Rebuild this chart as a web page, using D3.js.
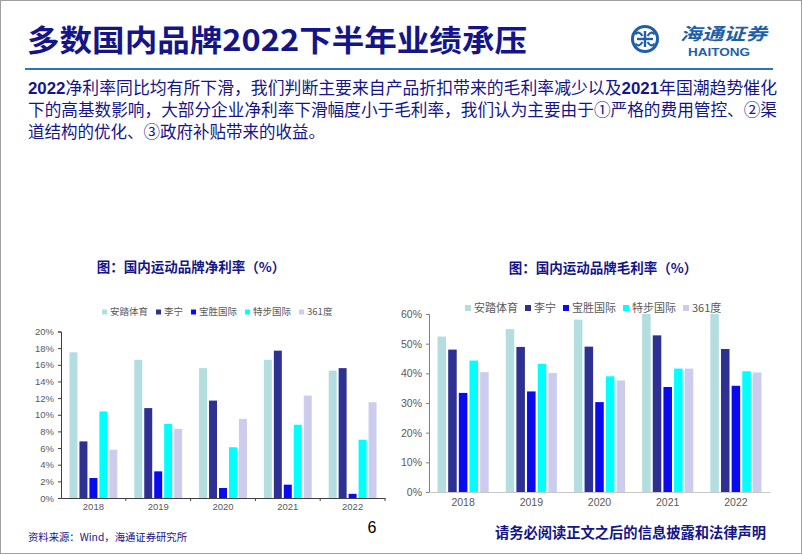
<!DOCTYPE html>
<html><head><meta charset="utf-8">
<script src="https://cdn.jsdelivr.net/npm/d3@7"></script>
<style>
html,body{margin:0;padding:0;background:#fff;}
svg{display:block;}
text{font-family:"Noto Sans CJK SC","Noto Sans",sans-serif;}
</style></head>
<body>
<svg id="c" width="802" height="554"></svg>
<script>
// ---------- data ----------
const years = ["2018","2019","2020","2021","2022"];
const brands = ["安踏体育","李宁","宝胜国际","特步国际","361度"];
const netAnta   = [17.5, 16.6, 15.6, 16.6, 15.3];
const netLining = [6.8, 10.8, 11.7, 17.7, 15.6];
const netPousheng = [2.4, 3.2, 1.2, 1.6, 0.5];
const netXtep   = [10.4, 8.9, 6.1, 8.8, 7.0];
const net361    = [5.8, 8.3, 9.5, 12.3, 11.5];
const grossAnta   = [52.4, 54.9, 58.1, 61.6, 60.2];
const grossLining = [48.0, 48.9, 49.0, 52.8, 48.2];
const grossPousheng = [33.4, 33.9, 30.3, 35.4, 35.8];
const grossXtep   = [44.3, 43.2, 39.0, 41.6, 40.7];
const gross361    = [40.4, 40.1, 37.6, 41.6, 40.3];
const netTicks = [0,2,4,6,8,10,12,14,16,18,20];
const grossTicks = [0,10,20,30,40,50,60];
const titleText = "多数国内品牌2022下半年业绩承压";
const paraLines = [
  "2022净利率同比均有所下滑，我们判断主要来自产品折扣带来的毛利率减少以及2021年国潮趋势催化",
  "下的高基数影响，大部分企业净利率下滑幅度小于毛利率，我们认为主要由于①严格的费用管控、②渠",
  "道结构的优化、③政府补贴带来的收益。"
];
const netTitle = "图：国内运动品牌净利率（%）";
const grossTitle = "图：国内运动品牌毛利率（%）";
const sourceText = "资料来源：Wind，海通证券研究所";
const disclaimer = "请务必阅读正文之后的信息披露和法律声明";
const pageNo = "6";

const colors = ["#b4dde0","#2e3192","#0a0aef","#00ffff","#cccdee"];
const navy = "#15158a";
const mixFont = "'Liberation Sans','Noto Sans CJK SC',sans-serif";

const svg = d3.select("#c");
svg.append("rect").attr("x",0.5).attr("y",0.5).attr("width",801).attr("height",553)
  .attr("fill","#fff").attr("stroke","#a0a0a0");

// ---------- header ----------
svg.append("text").attr("x",27).attr("y",51).attr("font-size",30).attr("font-weight","bold")
  .attr("fill",navy).attr("textLength",500).attr("lengthAdjust","spacingAndGlyphs").text(titleText);
svg.append("line").attr("x1",25).attr("x2",773).attr("y1",69).attr("y2",69)
  .attr("stroke","#2e75b6").attr("stroke-width",2);

// logo
const logo = svg.append("g").attr("transform","translate(645,39)");
const lc = "#1f5fa8";
logo.append("circle").attr("r",12.5).attr("fill","none").attr("stroke",lc).attr("stroke-width",3);
logo.append("line").attr("x1",-8).attr("x2",8).attr("y1",0).attr("y2",0).attr("stroke",lc).attr("stroke-width",2.4);
logo.append("line").attr("x1",0).attr("x2",0).attr("y1",-8).attr("y2",8).attr("stroke",lc).attr("stroke-width",2.4);
[[-1,-1],[1,-1],[1,1],[-1,1]].forEach(([sx,sy])=>{
  logo.append("path").attr("d",`M${sx*2.5},${sy*3} q${sx*4},${sy*6} ${sx*7},${sy*1.5}`)
    .attr("fill","none").attr("stroke",lc).attr("stroke-width",2.2);
});
svg.append("text").attr("x",680).attr("y",40).attr("font-size",17).attr("font-weight","bold")
  .attr("fill",lc).attr("font-style","italic").attr("textLength",87).attr("lengthAdjust","spacingAndGlyphs").text("海通证券");
svg.append("text").attr("x",688).attr("y",55.5).attr("font-size",11.5).attr("font-weight","bold")
  .attr("fill",lc).style("font-family","Liberation Sans, Arial, sans-serif")
  .attr("textLength",62).attr("lengthAdjust","spacingAndGlyphs").text("HAITONG");

// paragraph
const paraY = [93.5, 116, 138];
paraLines.forEach((l,i)=>{
  const t = svg.append("text").attr("x",28).attr("y",paraY[i]).attr("font-size",16.5)
    .attr("fill",navy).style("font-family",mixFont);
  if(i<2) t.attr("textLength",749).attr("lengthAdjust","spacingAndGlyphs");
  const parts = l.split(/(\d{4})/);
  parts.forEach(p=>{ if(!p) return;
    const ts=t.append("tspan").text(p);
    if(/^\d{4}$/.test(p)) ts.attr("font-weight","bold");
  });
});

// ---------- charts ----------
function drawChart(cfg){
  const g = svg.append("g");
  const x = d3.scaleBand().domain(years).range([cfg.x0,cfg.x1]).paddingInner(0).paddingOuter(0);
  const xi = d3.scaleBand().domain(brands).range([0,x.bandwidth()]).paddingInner(0.2).paddingOuter(cfg.po);
  const y = d3.scaleLinear().domain([0,cfg.max]).range([cfg.y0,cfg.yTop]).clamp(true);

  // title
  g.append("text").attr("x",cfg.titleX).attr("y",cfg.titleY).attr("text-anchor","middle")
    .attr("font-size",13.5).attr("font-weight","bold").attr("fill",navy).text(cfg.title);

  // bars
  cfg.series.forEach((vals,si)=>{
    g.selectAll(null).data(vals).enter().append("rect")
      .attr("x",(d,i)=>x(years[i])+xi(brands[si]))
      .attr("width",xi.bandwidth())
      .attr("y",d=>y(d))
      .attr("height",d=>y(0)-y(d))
      .attr("fill",colors[si]);
  });

  // y axis
  const ya = g.append("g").attr("transform",`translate(${cfg.x0},0)`)
    .call(d3.axisLeft(y).tickValues(cfg.ticks).tickSize(3).tickPadding(4).tickFormat(d=>d+"%"));
  ya.select(".domain").attr("stroke",cfg.axisColor);
  ya.selectAll(".tick line").attr("stroke",cfg.axisColor);
  ya.selectAll("text").attr("fill","#595959").attr("font-size",cfg.fs)
    .style("font-family","Liberation Sans, Arial, sans-serif");

  // x axis
  const xa = g.append("g").attr("transform",`translate(0,${cfg.y0})`)
    .call(d3.axisBottom(x).tickSize(0).tickPadding(cfg.xpad));
  xa.select(".domain").attr("stroke",cfg.baseColor);
  xa.selectAll("text").attr("fill","#595959").attr("font-size",cfg.fs)
    .style("font-family","Liberation Sans, Arial, sans-serif");
  if(cfg.boundaryTicks){
    g.selectAll(null).data(years.slice(1).concat(["end"])).enter().append("line")
      .attr("x1",d=>d==="end"?cfg.x1:x(d)).attr("x2",d=>d==="end"?cfg.x1:x(d))
      .attr("y1",cfg.y0).attr("y2",cfg.y0+3).attr("stroke",cfg.baseColor);
  }

  // legend
  let lx = cfg.legX;
  brands.forEach((b,i)=>{
    g.append("rect").attr("x",lx).attr("y",cfg.legY-cfg.sq/2).attr("width",cfg.sq).attr("height",cfg.sq).attr("fill",colors[i]);
    const t = g.append("text").attr("x",lx+cfg.sq+3).attr("y",cfg.legY+cfg.lfs*0.36)
      .attr("font-size",cfg.lfs).attr("fill","#595959").text(b);
    lx += cfg.sq + 3 + t.node().getComputedTextLength() + cfg.lgap;
  });
}

drawChart({
  x0:61, x1:385, y0:498, yTop:331.5, max:20, ticks:netTicks, po:0.85,
  series:[netAnta,netLining,netPousheng,netXtep,net361],
  title:netTitle, titleX:191, titleY:271.5, fs:9.5, xpad:5,
  axisColor:"#404040", baseColor:"#404040", boundaryTicks:true,
  legX:102, legY:312, sq:5, lfs:9.5, lgap:8
});
drawChart({
  x0:429, x1:770, y0:492, yTop:314, max:60, ticks:grossTicks, po:0.8,
  series:[grossAnta,grossLining,grossPousheng,grossXtep,gross361],
  title:grossTitle, titleX:603, titleY:273, fs:10.5, xpad:7,
  axisColor:"#808080", baseColor:"#c8c8c8", boundaryTicks:false,
  legX:465, legY:308, sq:6, lfs:11, lgap:7
});

// ---------- footer ----------
svg.append("text").attr("x",28).attr("y",541).attr("font-size",10.5).attr("fill",navy)
  .attr("textLength",159).attr("lengthAdjust","spacingAndGlyphs").text(sourceText);
svg.append("text").attr("x",372).attr("y",533).attr("text-anchor","middle").attr("font-size",16)
  .attr("fill","#000").style("font-family","Liberation Sans, Arial, sans-serif").text(pageNo);
svg.append("text").attr("x",495).attr("y",538).attr("font-size",14.3).attr("font-weight","bold")
  .attr("fill",navy).attr("textLength",271).attr("lengthAdjust","spacingAndGlyphs").text(disclaimer);
</script>
</body></html>
